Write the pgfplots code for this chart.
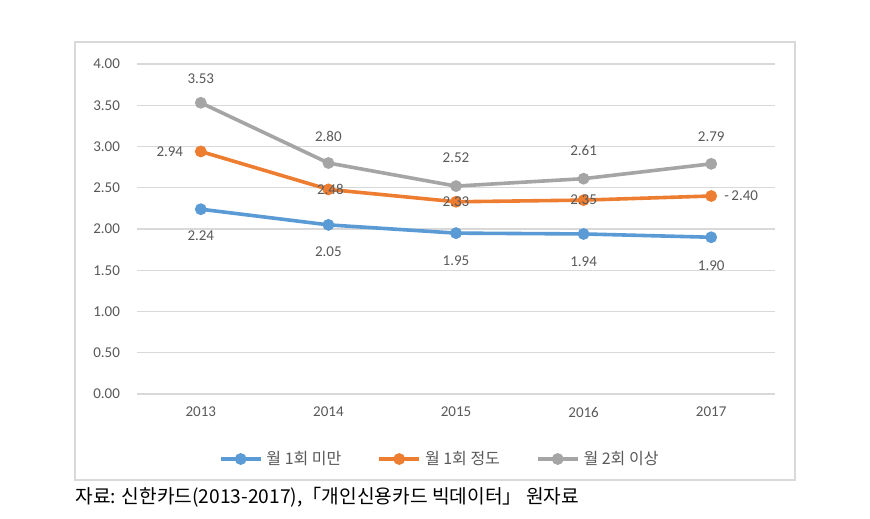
\documentclass[border=0pt]{standalone}
\usepackage{fontspec}
\setmainfont{Carlito}
\newfontfamily\kr{Noto Sans CJK KR}
\usepackage{pgfplots}
\usepackage{pgfplotstable}
\pgfplotsset{compat=1.18}
\definecolor{cblue}{HTML}{5B9BD5}
\definecolor{corange}{HTML}{ED7D31}
\definecolor{cgray}{HTML}{A5A5A5}
\definecolor{cgrid}{HTML}{D9D9D9}
\definecolor{txt}{HTML}{595959}

\pgfplotstableread{
x y dx dy
0 2.24 0 -13
1 2.05 0 -13.5
2 1.95 0 -14
3 1.94 0 -14
4 1.90 0 -14
}\tblue
\pgfplotstableread{
x y dx dy
0 2.94 -15.5 0
1 2.48 1 0
2 2.33 0 0
3 2.35 0 0
4 2.40 15 0
}\torange
\pgfplotstableread{
x y dx dy
0 3.53 0 12
1 2.80 0 13.5
2 2.52 0 14
3 2.61 0 14
4 2.79 0 13.5
}\tgray

\begin{document}
\begin{tikzpicture}
\useasboundingbox (-68.5pt,-62pt) rectangle (366.5pt,197pt);
\fill[white] (-68.5pt,-62pt) rectangle (366.5pt,197pt);
\draw[cgrid, line width=0.6pt] (-31pt,-43pt) rectangle (329pt,176pt);
\begin{axis}[
  scale only axis, width=319pt, height=165pt,
  xmin=-0.5, xmax=4.5, ymin=0, ymax=4,
  ytick={0,0.5,1,1.5,2,2.5,3,3.5,4},
  xtick={0,1,2,3,4}, xticklabels={2013,2014,2015,2016,2017},
  axis line style={draw=none},
  major tick length=0pt,
  xmajorgrids=false,
  ymajorgrids=true, major grid style={draw=cgrid, line width=0.6pt},
  /pgf/number format/assume math mode=true,
  yticklabel={\pgfmathprintnumber[fixed,fixed zerofill,precision=2]{\tick}},
  ticklabel style={font=\fontsize{7.5}{9}\selectfont, text=txt},
  yticklabel style={xshift=-5pt},
  xticklabel style={yshift=-3pt},
  clip=false,
  legend columns=3,
  legend style={draw=none, fill=none, at={(0.476,-0.197)}, anchor=center,
    font=\kr\fontsize{8}{9}\selectfont, text=txt,
    /tikz/every even column/.append style={column sep=16pt}},
  legend image code/.code={
    \draw[#1, mark=none] (0pt,0pt) -- (20pt,0pt);
    \draw[#1, only marks] plot coordinates {(10pt,0pt)};
  },
  every axis plot/.append style={line width=1.8pt, mark=*, mark size=2pt},
  nodes near coords,
  point meta=y,
  visualization depends on={\thisrow{dx} \as \dx},
  visualization depends on={\thisrow{dy} \as \dy},
  nodes near coords style={anchor=center, xshift=\dx pt, yshift=\dy pt,
    font=\fontsize{7.5}{9}\selectfont, text=txt,
    /pgf/number format/.cd, fixed, fixed zerofill, precision=2},
]
\addplot[cblue] table[x=x,y=y] {\tblue};
\addlegendentry{월 1회 미만}
\addplot[corange, nodes near coords={\ifdim\dx pt>10pt -\,\fi\pgfmathprintnumber[fixed,fixed zerofill,precision=2]{\pgfplotspointmeta}}] table[x=x,y=y] {\torange};
\addlegendentry{월 1회 정도}
\addplot[cgray] table[x=x,y=y] {\tgray};
\addlegendentry{월 2회 이상}
\end{axis}
\node[anchor=west, inner sep=0pt, font=\kr\fontsize{9.6}{11}\selectfont] at (-31pt,-51.5pt) {자료: 신한카드(2013-2017),「개인신용카드 빅데이터」 원자료};
\end{tikzpicture}
\end{document}
